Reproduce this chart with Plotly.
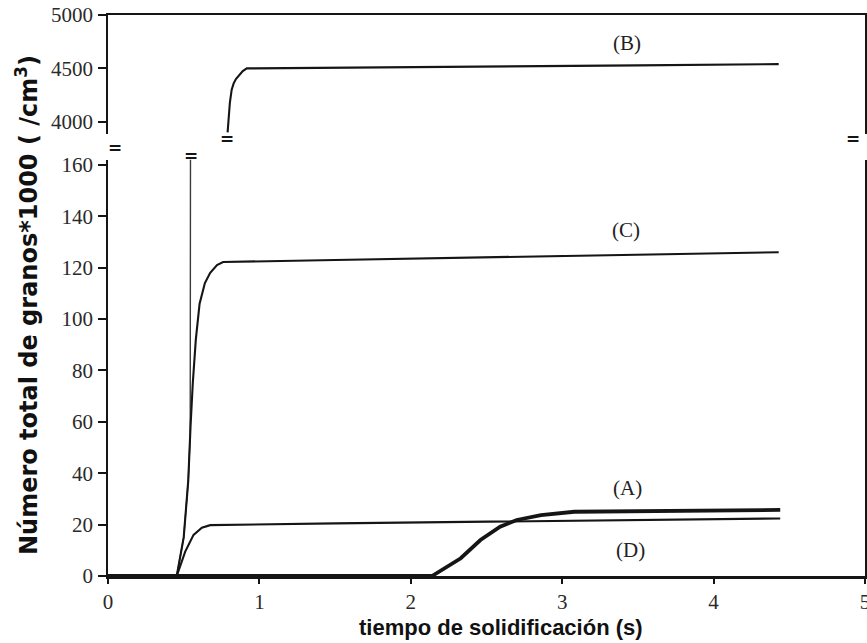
import plotly.graph_objects as go

# Solidification time (s) and grain count (x1000 per cm^3) for each case
A_t = [0, 0.454, 0.51, 0.565, 0.62, 0.675, 1.5, 2.5, 3.5, 4.44]
A_n = [0, 0, 9.5, 16, 18.8, 19.8, 20.5, 21.2, 21.8, 22.4]

C_t = [0, 0.454, 0.50, 0.53, 0.545, 0.56, 0.58, 0.605, 0.64, 0.675, 0.72, 0.76, 1.5, 2.5, 3.5, 4.43]
C_n = [0, 0, 15, 37, 58, 75, 92, 106, 114, 118, 121, 122.2, 123, 124, 125, 126]

# Case B runs off the lower scale and continues on the upper one
B_low_t = [0, 0.454, 0.50, 0.53, 0.543, 0.545]
B_low_n = [0, 0, 15, 37, 55, 175]
B_up_t = [0.79, 0.795, 0.805, 0.817, 0.83, 0.845, 0.862, 0.89, 0.917, 1.5, 2.5, 3.5, 4.43]
B_up_n = [3900, 4000, 4180, 4300, 4360, 4400, 4430, 4475, 4500, 4505, 4515, 4528, 4540]

D_t = [0, 2.14, 2.33, 2.46, 2.59, 2.70, 2.86, 3.08, 4.44]
D_n = [0, 0, 6.9, 14, 19.2, 21.8, 23.7, 25, 25.7]

x_ticks = [0, 1, 2, 3, 4, 5]
low_ticks = [0, 20, 40, 60, 80, 100, 120, 140, 160]
up_ticks = [4000, 4500, 5000]

case_labels = ["(A)", "(B)", "(C)", "(D)"]
label_t = [3.43, 3.43, 3.42, 3.45]
label_n = [34.3, 4737, 134.7, 10.1]
label_axis = ["y", "y2", "y", "y"]

INK = "#151515"
SERIF = "Liberation Serif"

fig = go.Figure()

def add_curve(t, n, width, xa="x", ya="y", color=INK):
    fig.add_trace(go.Scatter(x=t, y=n, mode="lines", xaxis=xa, yaxis=ya,
                             line=dict(color=color, width=width),
                             showlegend=False, hoverinfo="skip"))

add_curve(B_low_t, B_low_n, 1.4, color="#3a3a3a")
add_curve(C_t, C_n, 2.1)
add_curve(A_t, A_n, 2.1)
add_curve(D_t, D_n, 3.8)
add_curve(B_up_t, B_up_n, 2.1, xa="x2", ya="y2")

tick_font = dict(family=SERIF, size=21, color="#2a2a2a")
axis_common = dict(showgrid=False, zeroline=False, showline=True,
                   linecolor=INK, ticks="outside", tickcolor=INK,
                   tickfont=tick_font, automargin=False)

fig.update_layout(
    width=867, height=643,
    margin=dict(l=108, r=2, t=15, b=67),
    paper_bgcolor="white", plot_bgcolor="white",
    xaxis=dict(range=[0, 5], tickvals=x_ticks, anchor="y", linewidth=2.8,
               ticklen=5, tickwidth=1.5, ticklabeloverflow="allow",
               **axis_common),
    xaxis2=dict(range=[0, 5], matches="x", anchor="y2", side="top",
                showticklabels=False, showgrid=False, zeroline=False,
                showline=True, linecolor=INK, linewidth=2.4, ticks="",
                automargin=False),
    yaxis=dict(range=[0, 162], domain=[0, 0.742], tickvals=low_ticks,
               tickformat="d", linewidth=1.8, ticklen=8, tickwidth=1.5,
               mirror=True, ticklabelstandoff=1, **axis_common),
    yaxis2=dict(range=[3880, 5001], domain=[0.787, 1], tickvals=up_ticks,
                tickformat="d", anchor="x2", linewidth=1.8, ticklen=8,
                tickwidth=1.5, mirror=True, ticklabelstandoff=1, **axis_common),
)

# Case labels
for txt, t, n, ya in zip(case_labels, label_t, label_n, label_axis):
    fig.add_annotation(text=txt, x=t, y=n, xref="x", yref=ya, showarrow=False,
                       font=dict(family=SERIF, size=21, color="#222"))

# Axis break marks
brk = dict(family="DejaVu Sans", size=17, color=INK)
fig.add_annotation(text="<b>=</b>", x=-0.003, y=0.785, xref="paper", yref="paper",
                   showarrow=False, font=brk)
fig.add_annotation(text="<b>=</b>", x=0.996, y=0.8, xref="paper", yref="paper",
                   showarrow=False, font=brk)
fig.add_annotation(text="<b>=</b>", x=B_low_t[-1], y=0.77, xref="x", yref="paper",
                   showarrow=False, font=brk)
fig.add_annotation(text="<b>=</b>", x=B_up_t[0] - 0.005, y=0.8, xref="x2", yref="paper",
                   showarrow=False, font=brk)

# Axis titles
fig.add_annotation(text="<b>Número total de granos*1000 ( /cm<sup>3</sup>)</b>",
                   x=-0.107, y=0.483, xref="paper", yref="paper", textangle=-90,
                   showarrow=False, xanchor="center", yanchor="middle",
                   font=dict(family="DejaVu Sans", size=24, color="#111"))
fig.add_annotation(text="<b>tiempo de solidificación (s)</b>",
                   x=0.519, y=-0.091, xref="paper", yref="paper",
                   showarrow=False, xanchor="center", yanchor="middle",
                   font=dict(family="Liberation Sans", size=22, color="#111"))

fig.write_html("out.html")
